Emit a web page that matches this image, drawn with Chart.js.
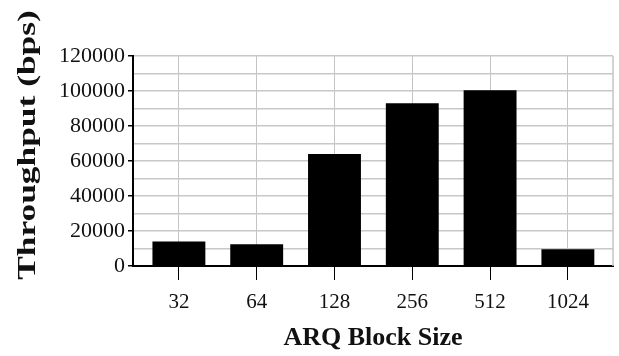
<!DOCTYPE html>
<html>
<head>
<meta charset="utf-8">
<script src="https://cdn.jsdelivr.net/npm/chart.js@4/dist/chart.umd.min.js"></script>
<style>
  html, body { margin: 0; padding: 0; background: #fff; }
  #wrap { width: 619px; height: 356px; }
</style>
</head>
<body>
<div id="wrap"><canvas id="chart" width="619" height="356"></canvas></div>
<script>
// ARQ block sizes on the x axis
const categories = ['32', '64', '128', '256', '512', '1024'];
// Throughput in bits per second for each block size
const throughput = [14000, 12500, 64000, 93000, 100500, 9600];
// Labelled y ticks (grid lines run every 10000)
const yTickLabels = [0, 20000, 40000, 60000, 80000, 100000, 120000];

const yTitle = 'Throughput (bps)';
const xTitle = 'ARQ Block Size';

const SERIF = "'Liberation Serif', 'Times New Roman', serif";
const X_MIN = -0.59;
const X_MAX = 5.58;

// Vertical axis title, stretched along its length like the printed figure
const yTitlePlugin = {
  id: 'yTitle',
  afterDraw(chart) {
    const { ctx, chartArea } = chart;
    ctx.save();
    ctx.translate(28, (chartArea.top + chartArea.bottom) / 2 - 16);
    ctx.rotate(-Math.PI / 2);
    ctx.scale(1.36, 1);
    ctx.font = 'bold 26px ' + SERIF;
    ctx.fillStyle = '#111';
    ctx.textAlign = 'center';
    ctx.textBaseline = 'middle';
    ctx.fillText(yTitle, 0, 0);
    ctx.restore();
  }
};

// Grey frame line on the right side of the plot area
const rightFramePlugin = {
  id: 'rightFrame',
  beforeDatasetsDraw(chart) {
    const { ctx, chartArea } = chart;
    ctx.save();
    ctx.strokeStyle = '#c4c4c4';
    ctx.lineWidth = 1.5;
    ctx.beginPath();
    ctx.moveTo(chartArea.right, chartArea.top);
    ctx.lineTo(chartArea.right, chartArea.bottom);
    ctx.stroke();
    ctx.restore();
  }
};

new Chart(document.getElementById('chart'), {
  type: 'bar',
  data: {
    datasets: [{
      data: throughput.map((v, i) => ({ x: i, y: v })),
      backgroundColor: '#000',
      borderWidth: 0,
      categoryPercentage: 1,
      barPercentage: 0.68
    }]
  },
  options: {
    responsive: false,
    animation: false,
    layout: { padding: { top: 56, right: 6, bottom: 0, left: 0 } },
    plugins: { legend: { display: false }, tooltip: { enabled: false } },
    scales: {
      x: {
        type: 'linear',
        min: X_MIN,
        max: X_MAX,
        offset: false,
        afterBuildTicks(scale) {
          scale.ticks = categories.map((_, i) => ({ value: i }));
        },
        afterFit(scale) { scale.height = 90; },
        ticks: {
          autoSkip: false,
          maxRotation: 0,
          padding: 10,
          color: '#111',
          font: { family: SERIF, size: 21 },
          callback: (v) => categories[v] ?? ''
        },
        grid: {
          offset: false,
          color: '#c4c4c4',
          lineWidth: 1,
          tickLength: 14,
          tickColor: '#000'
        },
        border: { color: '#000', width: 2 },
        title: {
          display: true,
          text: xTitle,
          color: '#111',
          font: { family: SERIF, size: 26, weight: 'bold' },
          padding: { top: 0, bottom: 2 }
        }
      },
      y: {
        min: 0,
        max: 120000,
        afterFit(scale) { scale.width = 133; },
        ticks: {
          stepSize: 10000,
          maxTicksLimit: 20,
          autoSkip: false,
          padding: 3,
          color: '#111',
          font: { family: SERIF, size: 22 },
          callback: (v) => yTickLabels.includes(v) ? String(v) : ''
        },
        grid: {
          color: '#c8c8c8',
          lineWidth: 1.5,
          tickLength: 5,
          tickColor: (c) => (c.tick && yTickLabels.includes(c.tick.value)) ? '#000' : 'rgba(0,0,0,0)'
        },
        border: { color: '#000', width: 2 }
      }
    }
  },
  plugins: [yTitlePlugin, rightFramePlugin]
});
</script>
</body>
</html>
